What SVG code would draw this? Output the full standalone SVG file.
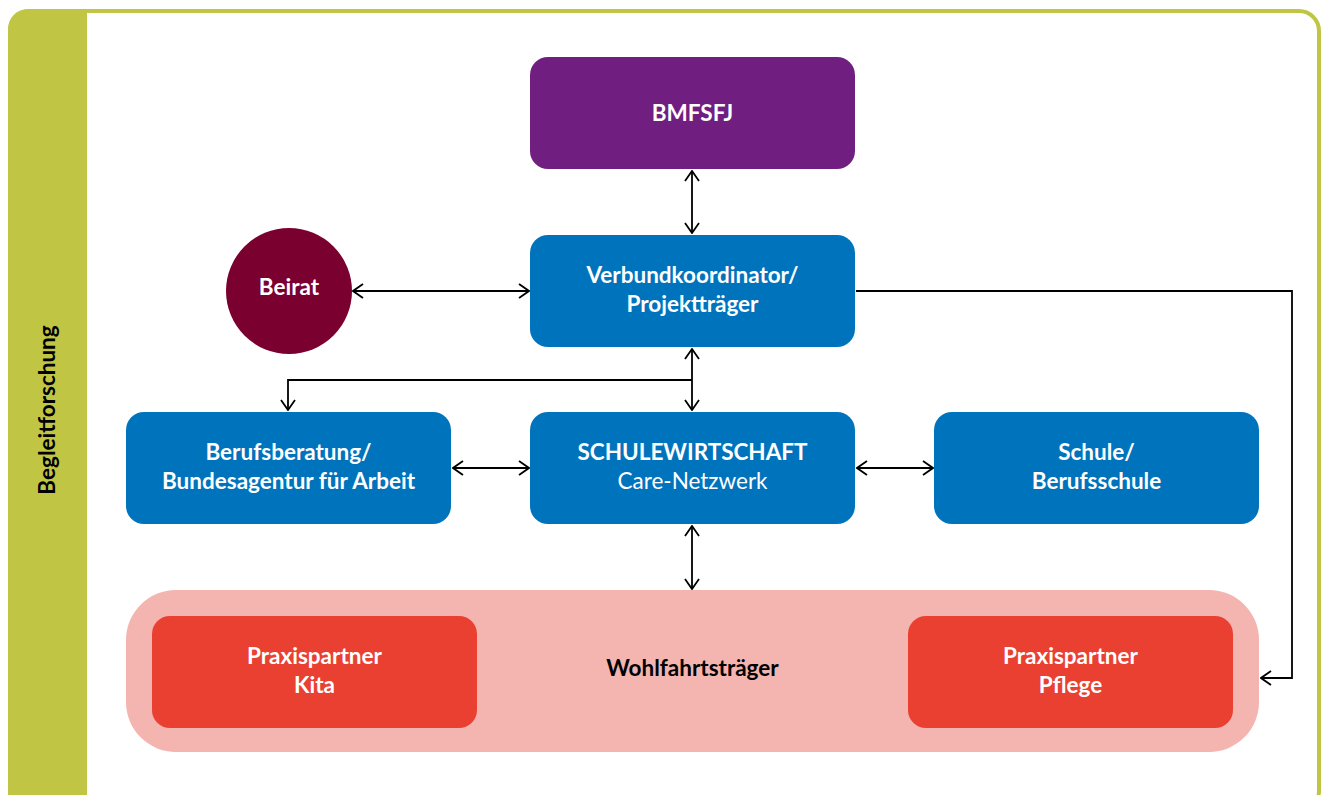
<svg xmlns="http://www.w3.org/2000/svg" width="1322" height="795" viewBox="0 0 1322 795">
<style>
.t{font-family:Lato,"Noto Sans","Liberation Sans",sans-serif;font-size:22.5px;font-weight:bold;fill:#fff;text-anchor:middle}
.r{font-weight:normal}
.c{fill:none;stroke:#000;stroke-width:1.8}
.blue{fill:#0073bd}
.red{fill:#e94032}
</style>
<defs>
<marker id="a" viewBox="0 0 12 16" refX="11" refY="8" markerWidth="12" markerHeight="16" markerUnits="userSpaceOnUse" orient="auto-start-reverse">
<path d="M1,1 L11,8 L1,15" fill="none" stroke="#000" stroke-width="1.8"/>
</marker>
</defs>
<g id="frame">
<rect x="10" y="11" width="1309" height="800" rx="20" fill="#fff" stroke="#c0c644" stroke-width="4"/>
<path d="M8,29 A20,20 0 0 1 28,9 L87,9 L87,800 L8,800 Z" fill="#c0c644"/>
<text transform="translate(55,410) rotate(-90)" font-family="Lato,'Noto Sans','Liberation Sans',sans-serif" font-size="22.5" font-weight="bold" text-anchor="middle" fill="#000">Begleitforschung</text>
</g>
<g id="connectors">
<line class="c" x1="692" y1="171" x2="692" y2="233" marker-start="url(#a)" marker-end="url(#a)"/>
<line class="c" x1="353" y1="291" x2="529" y2="291" marker-start="url(#a)" marker-end="url(#a)"/>
<line class="c" x1="692" y1="349" x2="692" y2="410" marker-start="url(#a)" marker-end="url(#a)"/>
<path class="c" d="M692,380 L288,380 L288,410" marker-end="url(#a)"/>
<line class="c" x1="453" y1="468" x2="529" y2="468" marker-start="url(#a)" marker-end="url(#a)"/>
<line class="c" x1="857" y1="468" x2="933" y2="468" marker-start="url(#a)" marker-end="url(#a)"/>
<line class="c" x1="692" y1="526" x2="692" y2="589" marker-start="url(#a)" marker-end="url(#a)"/>
<path class="c" d="M856,291 L1292,291 L1292,678 L1261,678" marker-end="url(#a)"/>
</g>
<g id="bmfsfj">
<rect x="530" y="57" width="325" height="112" rx="18" fill="#701f80"/>
<text class="t" x="692.5" y="121">BMFSFJ</text>
</g>
<g id="verbund">
<rect class="blue" x="530" y="235" width="325" height="112" rx="18"/>
<text class="t" x="692.5" y="283">Verbundkoordinator/</text>
<text class="t" x="692.5" y="312">Projektträger</text>
</g>
<g id="beirat">
<circle cx="289" cy="291" r="63" fill="#7a0030"/>
<text class="t" x="289" y="295">Beirat</text>
</g>
<g id="berufsberatung">
<rect class="blue" x="126" y="412" width="325" height="112" rx="18"/>
<text class="t" x="288.5" y="460">Berufsberatung/</text>
<text class="t" x="288.5" y="489">Bundesagentur für Arbeit</text>
</g>
<g id="schulewirtschaft">
<rect class="blue" x="530" y="412" width="325" height="112" rx="18"/>
<text class="t" x="692.5" y="460">SCHULEWIRTSCHAFT</text>
<text class="t r" x="692.5" y="489">Care-Netzwerk</text>
</g>
<g id="schule">
<rect class="blue" x="934" y="412" width="325" height="112" rx="18"/>
<text class="t" x="1096.5" y="460">Schule/</text>
<text class="t" x="1096.5" y="489">Berufsschule</text>
</g>
<g id="wohlfahrt">
<rect x="126" y="590" width="1133" height="162" rx="50" fill="#f4b4af"/>
<text class="t" x="692.5" y="676" style="fill:#000">Wohlfahrtsträger</text>
</g>
<g id="kita">
<rect class="red" x="152" y="616" width="325" height="112" rx="18"/>
<text class="t" x="314.5" y="664">Praxispartner</text>
<text class="t" x="314.5" y="693">Kita</text>
</g>
<g id="pflege">
<rect class="red" x="908" y="616" width="325" height="112" rx="18"/>
<text class="t" x="1070.5" y="664">Praxispartner</text>
<text class="t" x="1070.5" y="693">Pflege</text>
</g>
</svg>
